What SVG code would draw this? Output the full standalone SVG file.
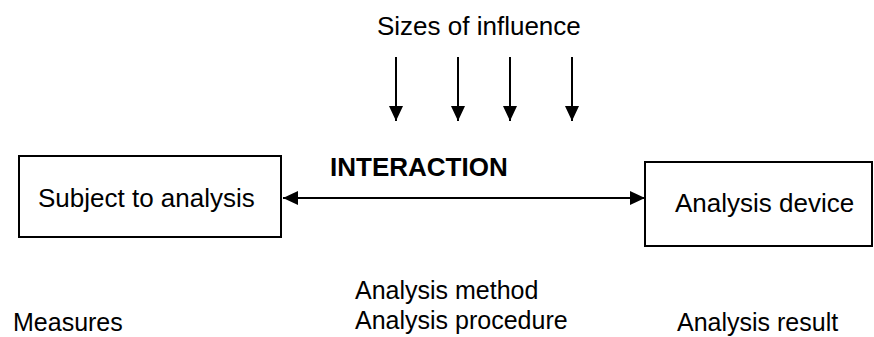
<svg xmlns="http://www.w3.org/2000/svg" width="874" height="337" viewBox="0 0 874 337">
<style>
text{font-family:"Liberation Sans",Arial,sans-serif;font-size:26px;fill:#000}
.b{font-weight:bold}
.s{font-size:25px}
.box{fill:#fff;stroke:#000;stroke-width:2}
.ln{stroke:#000;stroke-width:2;fill:none}
</style>
<defs>
<marker id="ah" viewBox="0 0 15 14" refX="15" refY="7" markerWidth="15" markerHeight="14" markerUnits="userSpaceOnUse" orient="auto-start-reverse">
<path d="M0,0 L15,7 L0,14 Z" fill="#000"/>
</marker>
</defs>
<rect width="874" height="337" fill="#fff"/>
<g id="subject">
<rect class="box" x="19" y="156" width="262" height="81"/>
<text x="38" y="207">Subject to analysis</text>
</g>
<g id="device">
<rect class="box" x="645" y="162" width="227" height="84"/>
<text x="675" y="212">Analysis device</text>
</g>
<g id="influence">
<text x="377" y="35">Sizes of influence</text>
</g>
<g id="interaction-label">
<text class="b" x="330" y="176">INTERACTION</text>
</g>
<g id="connectors">
<line class="ln" x1="283" y1="198" x2="645" y2="198" marker-start="url(#ah)" marker-end="url(#ah)"/>
<line class="ln" x1="396" y1="57" x2="396" y2="121" marker-end="url(#ah)"/>
<line class="ln" x1="458" y1="57" x2="458" y2="121" marker-end="url(#ah)"/>
<line class="ln" x1="510" y1="57" x2="510" y2="121" marker-end="url(#ah)"/>
<line class="ln" x1="572" y1="57" x2="572" y2="121" marker-end="url(#ah)"/>
</g>
<g id="labels">
<text class="s" x="13" y="331">Measures</text>
<text class="s" x="355" y="299">Analysis method</text>
<text class="s" x="355" y="329">Analysis procedure</text>
<text class="s" x="677" y="331">Analysis result</text>
</g>
</svg>
